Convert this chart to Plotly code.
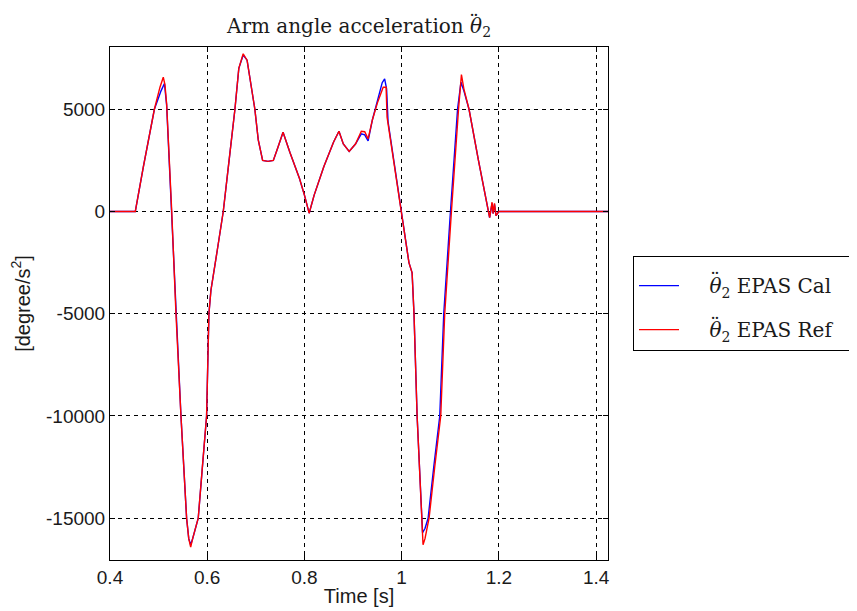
import plotly.graph_objects as go

# Reference (red) series
t_ref = [0.40, 0.452, 0.4685, 0.4913, 0.5028, 0.5096, 0.513, 0.5165, 0.527, 0.5357, 0.546,
         0.5576, 0.562, 0.566, 0.570, 0.5815, 0.590, 0.5987, 0.6035, 0.6076, 0.6206, 0.633,
         0.645, 0.657, 0.665, 0.674, 0.682, 0.690, 0.698, 0.705, 0.714, 0.725, 0.736, 0.745,
         0.756, 0.770, 0.790, 0.800, 0.8097, 0.820, 0.840, 0.860, 0.871, 0.880, 0.892, 0.905,
         0.917, 0.924, 0.931, 0.940, 0.950, 0.962, 0.968, 0.970, 0.985, 0.9996, 1.006, 1.015,
         1.0215, 1.0254, 1.0318, 1.0407, 1.044, 1.048, 1.0564, 1.068, 1.0804, 1.0886, 1.0968,
         1.1024, 1.117, 1.123, 1.128, 1.1386, 1.158, 1.1776, 1.181, 1.186, 1.188, 1.191, 1.194,
         1.200, 1.4245]
v_ref = [0, 0, 2166, 5000, 6078, 6567, 6200, 5266, 0, -5000, -10000,
         -15000, -16000, -16415, -16000, -15000, -12500, -10000, -5000, -3863, -1907, 0,
         2500, 5000, 7000, 7711, 7400, 6300, 5000, 3500, 2494, 2450, 2494, 3100,
         3878, 2900, 1600, 800, -83, 800, 2200, 3400, 3927, 3300, 2934, 3300,
         3927, 3900, 3553, 4500, 5300, 6078, 6078, 4611, 2300, 0, -1000, -2500,
         -3000, -5000, -10000, -15000, -16300, -16000, -15000, -12500, -10000, -5000, -1907,
         0, 5000, 6699, 6000, 5000, 2500, 0, -300, 455, -100, 400, -200,
         0, 0]

# Calculated (blue) series
t_cal = [0.40, 0.452, 0.4685, 0.4913, 0.505, 0.512, 0.5165, 0.527, 0.5357, 0.546,
         0.5576, 0.562, 0.566, 0.570, 0.5815, 0.590, 0.5987, 0.6035, 0.6076, 0.6206, 0.633,
         0.645, 0.657, 0.665, 0.674, 0.682, 0.690, 0.698, 0.705, 0.714, 0.725, 0.736, 0.745,
         0.756, 0.770, 0.790, 0.800, 0.8097, 0.820, 0.840, 0.860, 0.871, 0.880, 0.892, 0.905,
         0.917, 0.924, 0.931, 0.940, 0.950, 0.960, 0.965, 0.969, 0.972, 0.985, 0.9996, 1.006,
         1.015, 1.0215, 1.0254, 1.0318, 1.0407, 1.043, 1.048, 1.0544, 1.066, 1.0784, 1.0866,
         1.0948, 1.1004, 1.115, 1.122, 1.128, 1.1386, 1.158, 1.1776, 1.181, 1.186, 1.188,
         1.191, 1.194, 1.200, 1.4245]
v_cal = [0, 0, 2166, 5000, 5900, 6260, 5200, 0, -5000, -10000,
         -15000, -16000, -16300, -16000, -15000, -12500, -10000, -5000, -3863, -1907, 0,
         2500, 5000, 7000, 7650, 7400, 6300, 5000, 3500, 2494, 2450, 2494, 3100,
         3878, 2900, 1600, 800, -83, 800, 2200, 3400, 3927, 3300, 2934, 3300,
         3800, 3750, 3450, 4500, 5400, 6300, 6488, 6000, 4400, 2300, 0, -1000,
         -2500, -3000, -5000, -10000, -15000, -15711, -15500, -15000, -12500, -10000, -5000,
         -1907, 0, 5000, 6323, 5900, 5000, 2500, 0, -300, 400, -100,
         350, -200, 0, 0]

x_ticks = [0.4, 0.6, 0.8, 1.0, 1.2, 1.4]
x_tick_text = ["0.4", "0.6", "0.8", "1", "1.2", "1.4"]
y_ticks = [-15000, -10000, -5000, 0, 5000]
y_tick_text = ["-15000", "-10000", "-5000", "0", "5000"]

sans = "Liberation Sans, Arial, sans-serif"
serif = "DejaVu Serif, serif"
ink = "#1a1a1a"
pad_l = "&nbsp;" * 4
pad_r = "&nbsp;" * 4

fig = go.Figure()
fig.add_trace(go.Scatter(x=t_cal, y=v_cal, mode="lines",
                         line=dict(color="#0000ff", width=1.4), legendgroup="cal",
                         name=pad_l + "<i>θ</i><sub>2</sub> EPAS Cal" + pad_r))
fig.add_trace(go.Scatter(x=t_ref, y=v_ref, mode="lines",
                         line=dict(color="#ff0000", width=1.4), legendgroup="ref",
                         name=pad_l + "<i>θ</i><sub>2</sub> EPAS Ref" + pad_r))

axis_common = dict(showline=True, linecolor="black", linewidth=1, mirror="ticks",
                   ticks="inside", ticklen=5, tickcolor="black",
                   showgrid=True, gridcolor="black", gridwidth=1, griddash="4px,4px",
                   zeroline=False, tickfont=dict(family=sans, size=19, color=ink))

# double-dot accents (time derivative) over theta in title and legend
dots = [
    dict(x=0.731, y=1.0487),   # title
    dict(x=1.2149, y=0.5458),  # legend entry 1
    dict(x=1.2149, y=0.4581),  # legend entry 2
]
annotations = [dict(text="¨", x=d["x"], y=d["y"], xref="paper", yref="paper",
                    xanchor="center", yanchor="middle", showarrow=False,
                    font=dict(family=serif, size=20, color=ink)) for d in dots]

fig.update_layout(
    width=857, height=611,
    paper_bgcolor="white", plot_bgcolor="white",
    margin=dict(l=102, r=257, t=39, b=59, autoexpand=False),
    title=dict(text="Arm angle acceleration <i>θ</i><sub>2</sub>", x=0.5, xref="paper", xanchor="center",
               y=1 - 18 / 611, yanchor="middle",
               font=dict(family=serif, size=20, color=ink)),
    xaxis=dict(range=[0.4, 1.4245], tickvals=x_ticks, ticktext=x_tick_text,
               title=dict(text="Time [s]", font=dict(family=sans, size=20, color=ink), standoff=2),
               **axis_common),
    yaxis=dict(range=[-17042, 8044], tickvals=y_ticks, ticktext=y_tick_text,
               title=dict(text="[degree/s<sup>2</sup>]", font=dict(family=sans, size=20, color=ink), standoff=10),
               **axis_common),
    legend=dict(x=(633 - 110) / 498, xanchor="left",
                y=(560 - 256) / 513, yanchor="top",
                bordercolor="black", borderwidth=1, bgcolor="white",
                font=dict(family=serif, size=20, color=ink),
                title=dict(text=" ", font=dict(size=7)),
                traceorder="grouped", tracegroupgap=15, itemwidth=40),
    annotations=annotations,
    showlegend=True,
)

fig.write_html("out.html")
